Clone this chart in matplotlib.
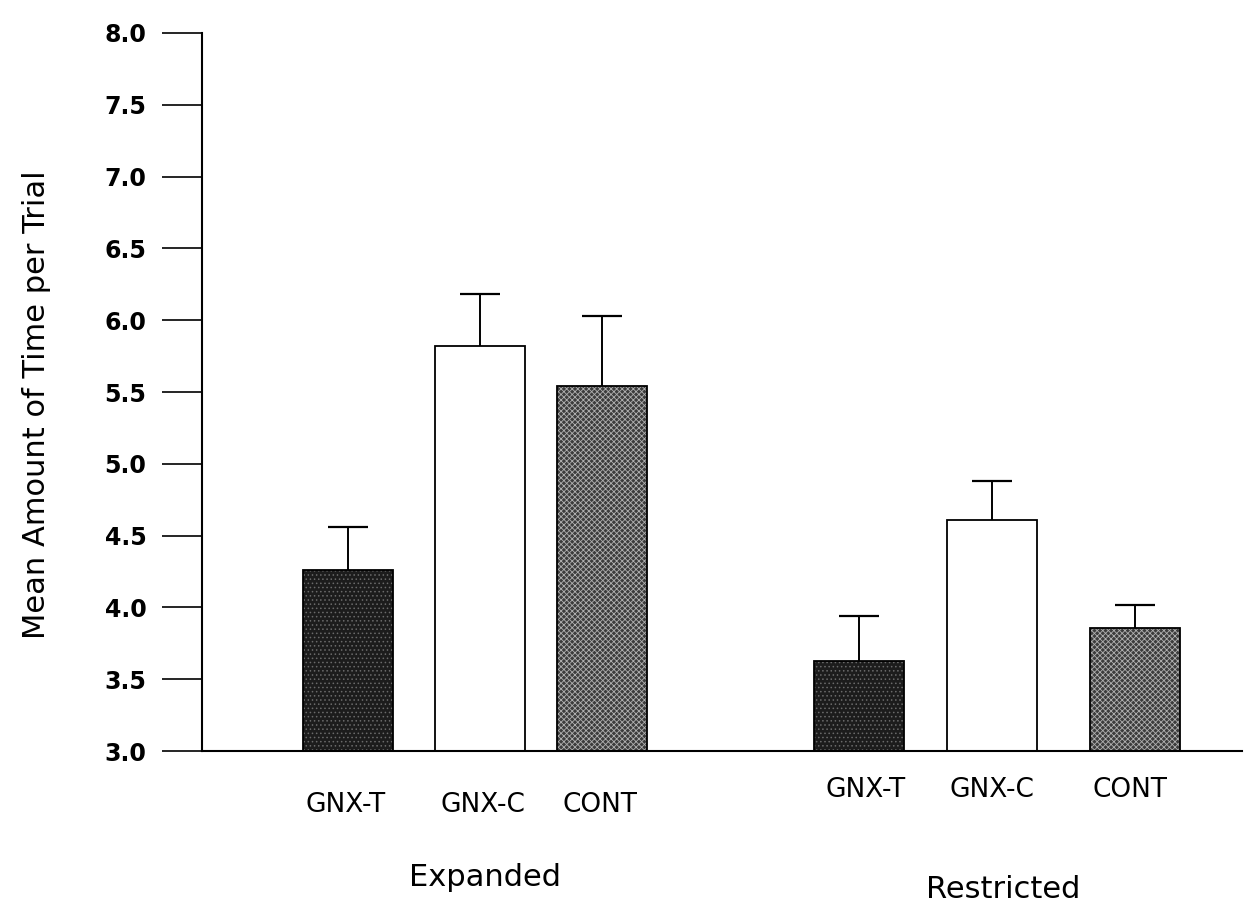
import numpy as np
import matplotlib
matplotlib.use("Agg")
import matplotlib.pyplot as plt

# values
groups = ["Expanded", "Restricted"]
conditions = ["GNX-T", "GNX-C", "CONT"]
expanded_means = [4.26, 5.82, 5.54]
expanded_err = [0.30, 0.36, 0.49]
restricted_means = [3.63, 4.61, 3.86]
restricted_err = [0.31, 0.27, 0.16]
yticks = np.arange(3.0, 8.01, 0.5)

plt.rcParams['font.family'] = ['DejaVu Sans']
plt.rcParams['hatch.linewidth'] = 0.6

fig = plt.figure(figsize=(12.52, 9.11), dpi=100)
ax = fig.add_axes([0.1613, 0.1756, 0.8307, 0.7882])

# bar centres per group (layout only)
pos = {"Expanded": [1.46, 2.78, 4.00], "Restricted": [6.57, 7.90, 9.33]}
label_pos = {"Expanded": [1.44, 2.81, 3.98], "Restricted": [6.64, 7.90, 9.28]}
label_y = {"Expanded": 812, "Restricted": 797}          # baselines, px from top
group_pos = {"Expanded": (2.83, 886), "Restricted": (8.01, 898)}

styles = [
    dict(face='#1c1c1c', hatch='....', hcol='#6a6a6a'),
    dict(face='white', hatch=None, hcol='white'),
    dict(face='#3c3c3c', hatch='xxxxxx', hcol='#b0b0b0'),
]
width = 0.90


def fig_y(px):
    return 1 - px / 911


for g, means, errs in [("Expanded", expanded_means, expanded_err),
                       ("Restricted", restricted_means, restricted_err)]:
    xs = pos[g]
    for x, m, e, st in zip(xs, means, errs, styles):
        ax.bar(x, m - 3.0, bottom=3.0, width=width, color=st['face'],
               hatch=st['hatch'], edgecolor=st['hcol'], linewidth=0, zorder=2)
        ax.bar(x, m - 3.0, bottom=3.0, width=width, fill=False,
               edgecolor='black', linewidth=1.3, zorder=3)
    xs = np.array(xs)
    tops = np.array(means)
    ax.vlines(xs, tops, tops + np.array(errs), color='black', lw=1.4, zorder=4)
    ax.hlines(tops + np.array(errs), xs - 0.2, xs + 0.2, color='black', lw=1.6, zorder=4)

ax.set_xlim(0, 10.4)
ax.set_ylim(3.0, 8.0)

for g in groups:
    for lx, name in zip(label_pos[g], conditions):
        fx = (lx / 10.4) * 0.8307 + 0.1613
        fig.text(fx, fig_y(label_y[g]), name, ha='center', va='baseline',
                 fontsize=19)
    gx, gy = group_pos[g]
    fig.text((gx / 10.4) * 0.8307 + 0.1613, fig_y(gy), g,
             ha='center', va='baseline', fontsize=22)

ax.set_yticks(yticks)
ax.set_yticklabels([f"{v:.1f}" for v in yticks], fontsize=17, fontweight='bold')
ax.tick_params(axis='y', length=29, width=1.2, pad=11, direction='out')
ax.set_xticks([])
for s in ['top', 'right']:
    ax.spines[s].set_visible(False)
ax.spines['left'].set_linewidth(1.5)
ax.spines['bottom'].set_linewidth(1.5)

fig.text(37 / 1252, fig_y(405), "Mean Amount of Time per Trial",
         rotation=90, ha='center', va='center', fontsize=22)

fig.savefig("out.png", dpi=100)
